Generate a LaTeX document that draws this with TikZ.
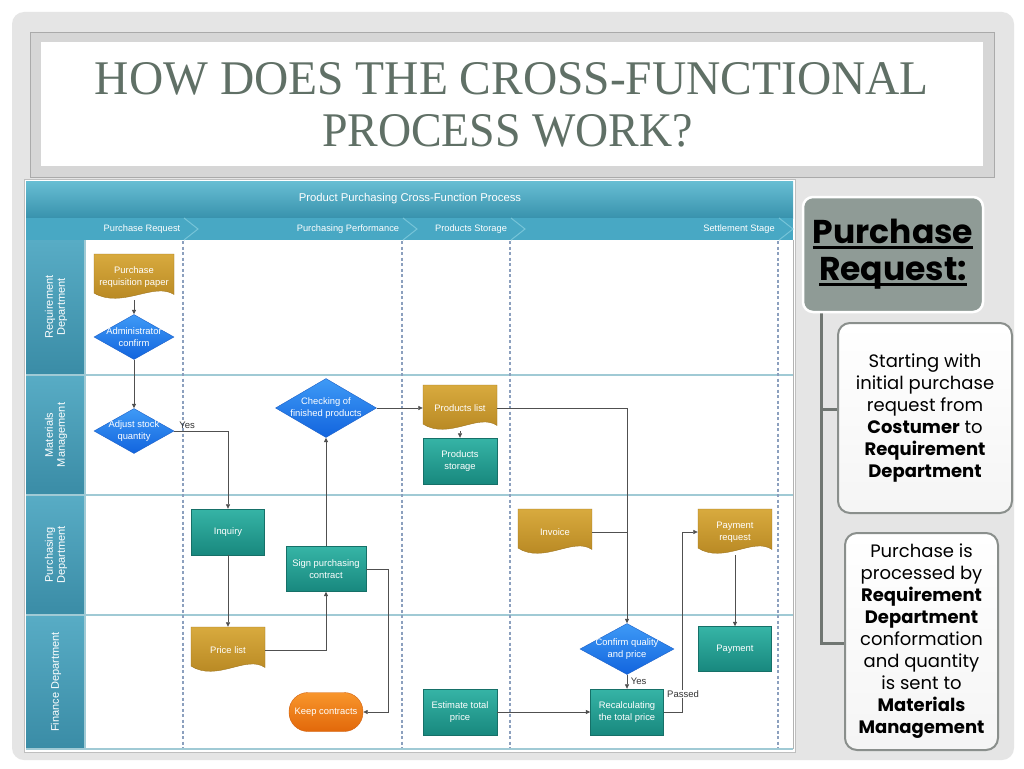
\documentclass[tikz,border=0pt]{standalone}
\usepackage{graphicx}
\usepackage{fontspec}
\setmainfont{Liberation Sans}
\newfontfamily\titlefont{Liberation Serif}
\newfontfamily\panelfont{Poppins}
\usetikzlibrary{shapes.geometric,arrows.meta,calc}
\definecolor{slideG}{RGB}{229,229,229}
\definecolor{frameG}{RGB}{214,214,214}
\definecolor{frameD}{RGB}{170,170,170}
\definecolor{titleC}{RGB}{96,112,102}
\definecolor{hdrT}{RGB}{104,190,211}
\definecolor{hdrB}{RGB}{56,146,173}
\definecolor{phaseC}{RGB}{72,168,196}
\definecolor{chevC}{RGB}{118,196,216}
\definecolor{laneT}{RGB}{88,172,197}
\definecolor{laneB}{RGB}{58,140,166}
\definecolor{sepC}{RGB}{160,202,213}
\definecolor{dashC}{RGB}{140,160,190}
\definecolor{connC}{RGB}{80,80,80}
\definecolor{goldT}{RGB}{216,170,62}
\definecolor{goldB}{RGB}{178,130,30}
\definecolor{goldD}{RGB}{160,118,30}
\definecolor{tealT}{RGB}{54,180,166}
\definecolor{tealB}{RGB}{24,136,126}
\definecolor{tealD}{RGB}{22,112,104}
\definecolor{blueT}{RGB}{62,154,246}
\definecolor{blueB}{RGB}{18,100,222}
\definecolor{blueD}{RGB}{28,96,200}
\definecolor{orT}{RGB}{248,150,44}
\definecolor{orB}{RGB}{226,104,10}
\definecolor{orD}{RGB}{210,100,20}
\definecolor{panelG}{RGB}{143,155,150}
\definecolor{treeC}{RGB}{112,118,114}
\definecolor{boxD}{RGB}{138,143,140}
\newcommand\myul[1]{\leavevmode\setbox0=\hbox{#1}\rlap{\raisebox{-5pt}{\rule{\wd0}{2.5pt}}}\box0}
\tikzset{
  conn/.style={draw=connC, line width=0.7pt, -{Triangle[length=4.5pt,width=4pt]}},
  connl/.style={draw=connC, line width=0.7pt},
  ntext/.style={text=white, align=center, font=\fontsize{9.4}{11.5}\selectfont, inner sep=1pt},
  tealbox/.style={ntext, rectangle, top color=tealT, bottom color=tealB, draw=tealD, line width=0.4pt},
  diabg/.style={diamond, top color=blueT, bottom color=blueB, draw=blueD, line width=0.4pt, inner sep=0pt},
  docsh/.style={top color=goldT, bottom color=goldB, draw=goldD, line width=0.4pt},
  doctxt/.style={ntext, rectangle},
  keepbox/.style={ntext, rectangle, rounded corners=19pt, top color=orT, bottom color=orB, draw=orD, line width=0.4pt},
  hdrtxt/.style={text=white, font=\fontsize{11.3}{13}\selectfont, inner sep=0pt},
  phtxt/.style={text=white, font=\fontsize{9.3}{11}\selectfont, inner sep=0pt},
  lanetxt/.style={text=white, align=center, font=\fontsize{11}{12}\selectfont, inner sep=0pt, rotate=90},
  lbl/.style={text=black!80, font=\fontsize{9.5}{10}\selectfont, inner sep=0.5pt},
  pbox/.style={draw=boxD, line width=2pt, rounded corners=12pt, top color=white, bottom color=black!4, align=center, text=black, font=\panelfont\fontsize{18}{22}\selectfont},
}
\newcommand\docnode[5]{%
  \path[docsh] ({#2-#4},{#3-23}) -- ({#2+#4},{#3-23}) -- ({#2+#4},{#3+17.5})
     .. controls ({#2+0.5*#4},{#3+4.6}) and ({#2-0.3*#4},{#3+32.2}) .. ({#2-#4},{#3+16.1}) -- cycle;
  \node[doctxt, minimum width={2*#4}, minimum height=46] (#1) at (#2,#3) {#5};}
\begin{document}
\begin{tikzpicture}[x=1pt,y=-1pt]
\useasboundingbox (0,0) rectangle (1024,768);
\fill[white] (0,0) rectangle (1024,768);
\fill[slideG, rounded corners=12pt] (12,12) rectangle (1014,760);
% title
\filldraw[fill=frameG, draw=frameD] (30,32) rectangle (994,177);
\fill[white] (41,42) rectangle (983,166);
\node[inner sep=0pt, text=titleC] (tl1) at (512,79) {\resizebox{834pt}{32pt}{\titlefont HOW DOES THE CROSS-FUNCTIONAL}};
\node[inner sep=0pt, text=titleC] (tl2) at (507.5,131) {\resizebox{371pt}{32pt}{\titlefont PROCESS WORK?}};
% diagram frame
\filldraw[fill=white, draw=black!25] (24,179) rectangle (795,752);
\path[top color=hdrT, bottom color=hdrB] (26,181) rectangle (793,218);
\fill[phaseC] (26,218) rectangle (793,240);
\foreach \t in {198,417,525,793} \draw[chevC, line width=1pt] (\t-14,218) -- (\t,229) -- (\t-14,240);
\foreach \a/\b in {240/375,375/495,495/615,615/749} \path[top color=laneT, bottom color=laneB] (26,\a) rectangle (85,\b);
\foreach \y in {375,495,615,749} \draw[sepC, line width=1.2pt] (26,\y) -- (793,\y);
\draw[sepC, line width=1.2pt] (85,240) -- (85,749);
\draw[black!30, line width=0.8pt] (793,240) -- (793,749);
\foreach \x in {183,402,510,778} \draw[dashC, line width=1.2pt, dash pattern=on 3pt off 2.5pt] (\x,241) -- (\x,748);
\node[hdrtxt] (hdr) at (410,199) {Product Purchasing Cross-Function Process};
\node[phtxt] (ph1) at (142,229) {Purchase Request};
\node[phtxt] (ph2) at (348,229) {Purchasing Performance};
\node[phtxt] (ph3) at (471,229) {Products Storage};
\node[phtxt] (ph4) at (739,229) {Settlement Stage};
\node[lanetxt] (ln1) at (56,307) {Requirement\\Department};
\node[lanetxt] (ln2) at (56,435) {Materials\\Management};
\node[lanetxt] (ln3) at (56,555) {Purchasing\\Department};
\node[lanetxt] (ln4) at (56,682) {Finance Department};
% nodes
\docnode{prq}{134}{277}{40}{Purchase\\requisition paper}
\node[diabg, minimum width=80, minimum height=45] (adm) at (134,337) {};
\node[ntext] (admt) at (adm) {Administrator\\confirm};
\node[diabg, minimum width=80, minimum height=45] (adj) at (134,431) {};
\node[ntext] (adjt) at (adj) {Adjust stock\\quantity};
\node[diabg, minimum width=101, minimum height=59] (chk) at (326,408) {};
\node[ntext] (chkt) at (chk) {Checking of\\finished products};
\docnode{plist}{460}{408}{37}{Products list}
\node[tealbox, minimum width=74, minimum height=46] (stor) at (460,461) {Products\\storage};
\node[tealbox, minimum width=73, minimum height=46] (inq) at (228,532) {Inquiry};
\node[tealbox, minimum width=80, minimum height=45] (sign) at (326,569) {Sign purchasing\\contract};
\docnode{price}{228}{650}{37}{Price list}
\node[keepbox, minimum width=74, minimum height=39] (keep) at (326,712) {Keep contracts};
\docnode{inv}{555}{532}{37}{Invoice}
\docnode{preq}{735}{532}{37}{Payment\\request}
\node[diabg, minimum width=94, minimum height=51] (conf) at (627,649) {};
\node[ntext] (conft) at (conf) {Confirm quality\\and price};
\node[tealbox, minimum width=73, minimum height=45] (pay) at (735,649) {Payment};
\node[tealbox, minimum width=74, minimum height=46] (est) at (460,712) {Estimate total\\price};
\node[tealbox, minimum width=73, minimum height=46] (rec) at (627,712) {Recalculating\\the total price};
% connectors
\draw[conn] (prq.south) -- (adm.north);
\draw[conn] (adm.south) -- (adj.north);
\draw[conn] (adj.east) -| node[lbl, pos=0.12, above=2pt] (yes1) {Yes} (inq.north);
\draw[conn] (inq.south) -- (price.north);
\draw[conn] (price.east) -| (sign.south);
\draw[conn] (sign.north) -- (chk.south);
\draw[conn] (sign.east) -- ++(22,0) |- (keep.east);
\draw[conn] (chk.east) -- (plist.west);
\draw[conn] (plist.south) -- (stor.north);
\draw[conn] (plist.east) -| (conf.north);
\draw[connl] (inv.east) -- (inv.east -| conf.north);
\draw[conn] (conf.south) -- node[lbl, right=3pt] (yes2) {Yes} (rec.north);
\draw[conn] (est.east) -- (rec.west);
\draw[conn] (rec.east) -- ++(19,0) |- (preq.west);
\node[lbl, fill=white] (passed) at (683,694) {Passed};
\draw[conn] (preq.south) -- (pay.north);
% right panel
\draw[treeC, line width=3pt] (821,312) -- (821,643) -- (845,643);
\coordinate (tb1) at (821,409);
\node[draw=white, line width=2.5pt, fill=panelG, rounded corners=10pt, minimum width=180, minimum height=115, align=center, font=\panelfont\bfseries\fontsize{33}{37}\selectfont] (pr) at (893,254.5) {\myul{Purchase}\\\myul{Request:}};
\node[pbox, minimum width=174, minimum height=190] (b1) at (925,418) {Starting with\\initial purchase\\request from\\\textbf{Costumer} to\\\textbf{Requirement}\\\textbf{Department}};
\draw[treeC, line width=3pt] (tb1) -- (b1.west |- tb1);
\node[pbox, minimum width=153, minimum height=217] (b2) at (921.5,641.5) {Purchase is\\processed by\\\textbf{Requirement}\\\textbf{Department}\\conformation\\and quantity\\is sent to\\\textbf{Materials}\\\textbf{Management}};
\end{tikzpicture}
\end{document}
